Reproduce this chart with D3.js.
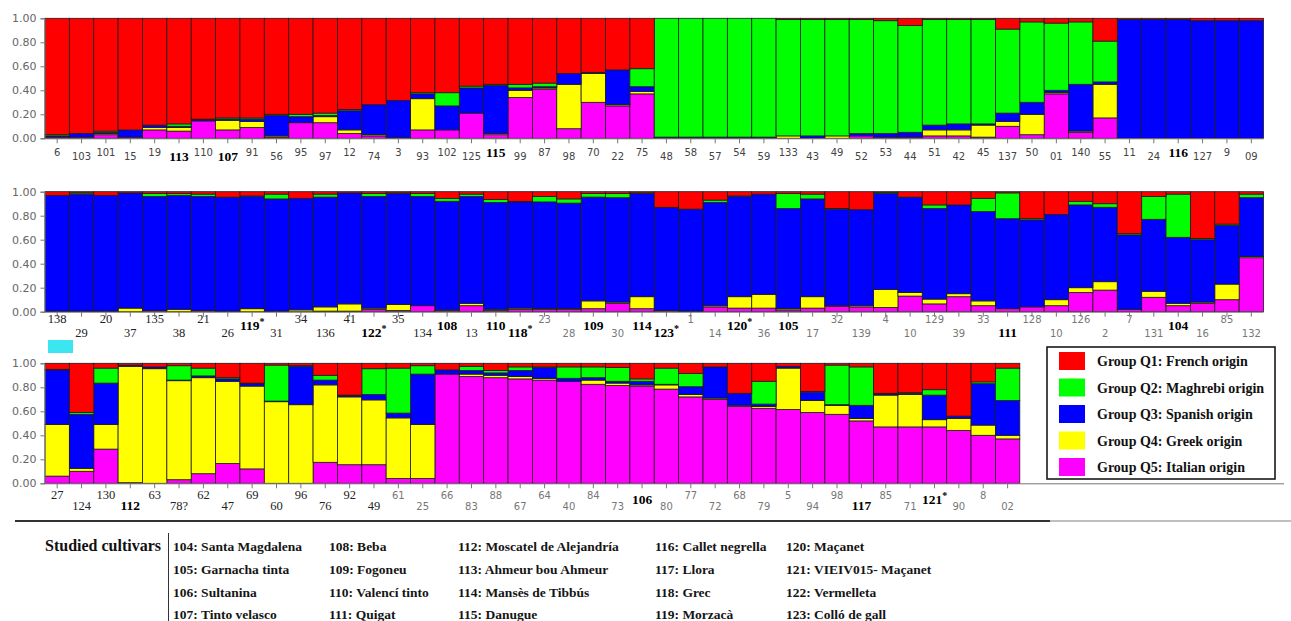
<!DOCTYPE html>
<html>
<head>
<meta charset="utf-8">
<script src="https://cdn.jsdelivr.net/npm/d3@7"></script>
<style>
  body { margin: 0; background: #fff; }
  svg { display: block; }
</style>
</head>
<body>
<svg id="chart" width="1291" height="621"></svg>
<script>
// ---- Ancestry proportions (STRUCTURE, K = 5) ----
const groupKeys = ["q1", "q2", "q3", "q4", "q5"];
const groupNames = [
  "Group Q1: French origin",
  "Group Q2: Maghrebi origin",
  "Group Q3: Spanish origin",
  "Group Q4: Greek origin",
  "Group Q5: Italian origin"
];
const groupColors = ["#ff0000", "#00ff00", "#0000ff", "#ffff00", "#ff00ff"];
const yTicks = [0, 0.2, 0.4, 0.6, 0.8, 1.0];

// Row 1
const p1Labels = ["6","103","101","15","19","113","110","107","91","56","95","97","12","74","3","93","102","125","115","99","87","98","70","22","75","48","58","57","54","59","133","43","49","52","53","44","51","42","45","137","50","01","140","55","11","24","116","127","9","09"];
const p1Studied = ["113","107","115","116"];
const p1Q1 = [.97,.96,.94,.93,.89,.88,.84,.83,.83,.80,.80,.79,.76,.72,.685,.62,.62,.565,.55,.55,.54,.46,.45,.43,.42,0,0,0,0,0,.01,.01,.01,.01,.02,.06,.01,.01,.01,.09,.03,.04,.03,.19,.01,.01,.01,.02,.02,.02];
const p1Q2 = [.01,0,.01,0,0,.02,.005,.01,.01,.01,.02,.02,.01,0,0,.01,.11,.015,.01,.03,.03,0,.005,0,.15,.99,.99,.99,.99,.99,.97,.97,.97,.95,.94,.89,.88,.87,.87,.70,.67,.56,.52,.34,0,0,0,0,0,0];
const p1Q3 = [.01,.03,.01,.06,.02,.01,.01,.01,.02,.17,.05,.01,.16,.25,.31,.04,.20,.21,.40,.02,.01,.09,.005,.29,.04,.01,.01,.01,.01,.01,0,.02,0,.02,.03,.04,.04,.05,.01,.07,.10,.02,.39,.02,.99,.99,.99,.98,.98,.98];
const p1Q4 = [0,0,.01,0,.02,.03,0,.08,.05,.01,0,.05,.03,.01,0,.26,0,0,.01,.06,.01,.37,.24,.01,.02,0,0,0,0,0,.02,0,.02,0,0,0,.05,.05,.10,.04,.17,.01,.01,.28,0,0,0,0,0,0];
const p1Q5 = [.01,.01,.03,.01,.07,.06,.145,.07,.09,.01,.13,.13,.04,.02,.005,.07,.07,.21,.03,.34,.41,.08,.30,.27,.37,0,0,0,0,0,0,0,0,.02,.01,.01,.02,.02,.01,.10,.03,.37,.05,.17,0,0,0,0,0,0];

// Row 2
const p2Labels = ["138","29","20","37","135","38","21","26","119*","31","34","136","41","122*","35","134","108","13","110","118*","23","28","109","30","114","123*","1","14","120*","36","105","17","32","139","4","10","129","39","33","111","128","10","126","2","7","131","104","16","85","132"];
const p2Studied = ["119*","122*","108","110","118*","109","114","123*","120*","105","111","104"];
const p2Q1 = [.03,.01,.03,.01,.015,.015,.02,.045,.035,.02,.055,.02,.01,.015,.01,.015,.055,.02,.065,.08,.04,.06,.015,.015,.01,.13,.145,.07,.035,.02,.015,.02,.14,.15,.005,.045,.11,.11,.055,.01,.225,.19,.08,.10,.35,.04,.02,.39,.27,.02];
const p2Q2 = [0,.01,0,0,.025,.015,.02,0,.005,.04,0,.025,0,.025,.005,.025,.025,.02,.025,.005,.045,.035,.03,.035,.005,0,0,.02,.005,0,.125,.04,.005,0,.01,0,.03,0,.11,.215,.01,0,.03,.03,.01,.19,.36,.01,.01,.03];
const p2Q3 = [.965,.975,.965,.96,.95,.95,.95,.95,.935,.935,.93,.915,.925,.93,.925,.91,.905,.89,.89,.885,.89,.88,.865,.87,.86,.86,.85,.86,.835,.835,.835,.815,.805,.80,.80,.795,.755,.74,.745,.75,.725,.71,.69,.62,.62,.60,.55,.52,.49,.49];
const p2Q4 = [0,0,0,.03,0,.02,0,0,.025,0,.015,.035,.06,.01,.05,0,.005,.02,.01,.01,.005,.005,.065,.01,.10,0,0,.01,.095,.115,.01,.095,.005,.01,.15,.03,.04,.025,.04,0,0,.05,.04,.07,0,.05,.02,.01,.13,.01];
const p2Q5 = [.005,.005,.005,0,.01,0,.01,.005,0,.005,0,.005,.005,.02,.01,.05,.01,.05,.01,.02,.02,.02,.025,.07,.025,.01,.005,.04,.03,.03,.015,.03,.045,.04,.035,.13,.065,.125,.05,.025,.04,.05,.16,.18,.02,.12,.05,.07,.10,.45];

// Row 3
const p3Labels = ["27","124","130","112","63","78?","62","47","69","60","96","76","92","49","61","25","66","83","88","67","64","40","84","73","106","80","77","72","68","79","5","94","98","117","85","71","121*","90","8","02"];
const p3Studied = ["112","106","117","121*"];
const p3Q1 = [.05,.41,.04,.015,.03,.02,.04,.12,.165,.015,.02,.10,.265,.045,.04,.02,.055,.025,.06,.03,.03,.03,.03,.035,.13,.04,.085,.03,.25,.15,.025,.235,.015,.03,.25,.245,.22,.44,.155,.04];
const p3Q2 = [.005,.015,.125,0,0,.12,.065,.01,.005,.30,.005,.04,.005,.215,.375,.07,0,.035,.02,.03,.005,.095,.09,.115,.02,.135,.11,0,0,.19,0,.005,.33,.32,.005,.005,.045,0,.015,.27];
const p3Q3 = [.455,.45,.345,.01,.015,.005,.015,.02,.02,.005,.32,.04,.01,.045,.04,.42,.035,.03,.02,.05,.09,.025,.02,.015,.03,.005,.065,.26,.10,.02,.015,.07,.005,.11,.01,.01,.205,.02,.345,.29];
const p3Q4 = [.43,.025,.205,.97,.955,.825,.80,.685,.69,.68,.655,.645,.565,.54,.505,.45,0,.02,.02,.02,.015,0,.035,.02,.01,.035,.02,.01,.01,.015,.345,.10,.075,.02,.265,.27,.06,.10,.085,.03];
const p3Q5 = [.06,.10,.285,.005,0,.03,.08,.165,.12,0,0,.175,.155,.155,.04,.04,.91,.89,.88,.87,.86,.85,.825,.815,.81,.785,.72,.70,.64,.625,.615,.59,.575,.52,.47,.47,.47,.44,.40,.37];

// Studied cultivars key (five columns)
const cultivarColumns = [
  ["104: Santa Magdalena", "105: Garnacha tinta", "106: Sultanina", "107: Tinto velasco"],
  ["108: Beba", "109: Fogoneu", "110: Valencí tinto", "111: Quigat"],
  ["112: Moscatel de Alejandría", "113: Ahmeur bou Ahmeur", "114: Mansès de Tibbús", "115: Danugue"],
  ["116: Callet negrella", "117: Llora", "118: Grec", "119: Morzacà"],
  ["120: Maçanet", "121: VIEIV015- Maçanet", "122: Vermelleta", "123: Colló de gall"]
];

// ---- helpers ----
function buildRows(labels, q1, q2, q3, q4, q5) {
  return labels.map((label, i) => {
    const total = q1[i] + q2[i] + q3[i] + q4[i] + q5[i];
    return { i, label, q1: q1[i] / total, q2: q2[i] / total, q3: q3[i] / total, q4: q4[i] / total, q5: q5[i] / total };
  });
}

const svg = d3.select("#chart");
const color = d3.scaleOrdinal().domain(groupKeys).range(groupColors);
const stackKeys = ["q5", "q4", "q3", "q2", "q1"]; // Q5 at the base, Q1 on top
const x0 = 45, step = 24.37;
const SERIF = "'Liberation Serif', 'DejaVu Serif', serif";
const SANS = "'DejaVu Sans', Verdana, sans-serif";

const panels = [
  { rows: buildRows(p1Labels, p1Q1, p1Q2, p1Q3, p1Q4, p1Q5), studied: p1Studied,
    top: 18.3, bottom: 138.3, serifUntil: -1, axisEnd: null,
    ly: { even: 156, odd: 160, evenBold: 157, oddBold: 161 } },
  { rows: buildRows(p2Labels, p2Q1, p2Q2, p2Q3, p2Q4, p2Q5), studied: p2Studied,
    top: 191.7, bottom: 311.7, serifUntil: 19, axisEnd: null,
    ly: { even: 323, odd: 337, evenBold: 330, oddBold: 337 } },
  { rows: buildRows(p3Labels, p3Q1, p3Q2, p3Q3, p3Q4, p3Q5), studied: p3Studied,
    top: 363.3, bottom: 483.3, serifUntil: 13, axisEnd: 1284,
    ly: { even: 499, odd: 510, evenBold: 504, oddBold: 510 } }
];

panels.forEach(p => {
  const n = p.rows.length;
  const x = d3.scaleBand().domain(d3.range(n)).range([x0, x0 + n * step]).padding(0);
  const y = d3.scaleLinear().domain([0, 1]).range([p.bottom, p.top]);
  const g = svg.append("g");

  // stacked membership bars
  const series = d3.stack().keys(stackKeys)(p.rows);
  g.selectAll("g.layer").data(series).join("g")
    .attr("class", "layer")
    .attr("fill", d => color(d.key))
    .selectAll("rect").data(d => d).join("rect")
    .attr("x", (d, i) => x(i))
    .attr("width", x.bandwidth())
    .attr("y", d => y(d[1]))
    .attr("height", d => Math.max(0, y(d[0]) - y(d[1])))
    .attr("stroke", "#1c1c1c")
    .attr("stroke-width", 0.8);

  // left axis
  const ya = g.append("g")
    .attr("transform", `translate(${x0 - 0.5},0)`)
    .call(d3.axisLeft(y).tickValues(yTicks).tickFormat(d3.format(".2f")).tickSize(4).tickPadding(4));
  ya.select(".domain").attr("stroke", "#777");
  ya.selectAll(".tick line").attr("stroke", "#777");
  ya.selectAll(".tick text").attr("fill", "#666").style("font-family", SANS).style("font-size", "11px");

  // bottom axis ticks at each individual
  const xa = g.append("g")
    .attr("transform", `translate(0,${p.bottom})`)
    .call(d3.axisBottom(x).tickSize(5).tickFormat(""));
  xa.select(".domain").remove();
  xa.selectAll(".tick line").attr("stroke", "#777");
  g.append("line")
    .attr("x1", x0 - 1).attr("x2", p.axisEnd || (x0 + n * step))
    .attr("y1", p.bottom + 0.5).attr("y2", p.bottom + 0.5)
    .attr("stroke", "#777").attr("stroke-width", 1);

  // accession labels, staggered
  g.selectAll("text.lbl").data(p.rows).join("text")
    .attr("class", "lbl")
    .attr("text-anchor", "middle")
    .attr("x", d => x(d.i) + x.bandwidth() / 2)
    .attr("y", d => {
      const bold = p.studied.includes(d.label);
      if (d.i % 2 === 0) return bold ? p.ly.evenBold : p.ly.even;
      return bold ? p.ly.oddBold : p.ly.odd;
    })
    .each(function (d) {
      const t = d3.select(this);
      const bold = p.studied.includes(d.label);
      const star = d.label.endsWith("*");
      const base = star ? d.label.slice(0, -1) : d.label;
      if (bold) {
        t.style("font-family", SERIF).style("font-weight", "bold").style("font-size", "13.5px").attr("fill", "#000");
      } else if (d.i <= p.serifUntil) {
        t.style("font-family", SERIF).style("font-size", "12.5px").attr("fill", "#222");
      } else {
        t.style("font-family", SANS).style("font-size", "10px").attr("fill", p.serifUntil < 0 ? "#444" : "#777");
      }
      t.append("tspan").text(base);
      if (star) t.append("tspan").attr("dy", -5).style("font-size", "10px").text("*");
    });
});

// small cyan marker under the second row
svg.append("rect").attr("x", 48).attr("y", 340).attr("width", 25).attr("height", 13).attr("fill", "#3ce6f0");

// legend
const lg = svg.append("g");
lg.append("rect").attr("x", 1047).attr("y", 347).attr("width", 228).attr("height", 132)
  .attr("fill", "#fff").attr("stroke", "#1a1a1a").attr("stroke-width", 1.6);
const li = lg.selectAll("g.item").data(groupKeys).join("g").attr("class", "item")
  .attr("transform", (d, i) => `translate(0,${361 + i * 26.5})`);
li.append("rect").attr("x", 1059).attr("y", -9).attr("width", 26).attr("height", 18).attr("fill", d => color(d));
li.append("text").attr("x", 1097).attr("y", 5)
  .style("font-family", SERIF).style("font-weight", "bold").style("font-size", "14px").attr("fill", "#111")
  .text((d, i) => groupNames[i]);

// separator rules
svg.append("line").attr("x1", 15).attr("x2", 1050).attr("y1", 521).attr("y2", 521).attr("stroke", "#333").attr("stroke-width", 2);
svg.append("line").attr("x1", 1050).attr("x2", 1291).attr("y1", 521).attr("y2", 521).attr("stroke", "#aaa").attr("stroke-width", 1.5);

// studied cultivars key
const key = svg.append("g");
key.append("text").attr("x", 45).attr("y", 551)
  .style("font-family", SERIF).style("font-weight", "bold").style("font-size", "16px").attr("fill", "#111")
  .text("Studied cultivars");
key.append("line").attr("x1", 168.5).attr("x2", 168.5).attr("y1", 533).attr("y2", 621).attr("stroke", "#333").attr("stroke-width", 1);
const colX = [173, 329, 458, 655, 786];
const rowY = [551, 574, 597, 619];
cultivarColumns.forEach((col, c) => {
  key.selectAll(null).data(col).join("text")
    .attr("x", colX[c]).attr("y", (d, r) => rowY[r])
    .style("font-family", SERIF).style("font-weight", "bold").style("font-size", "13.5px").attr("fill", "#151515")
    .text(d => d);
});
</script>
</body>
</html>
